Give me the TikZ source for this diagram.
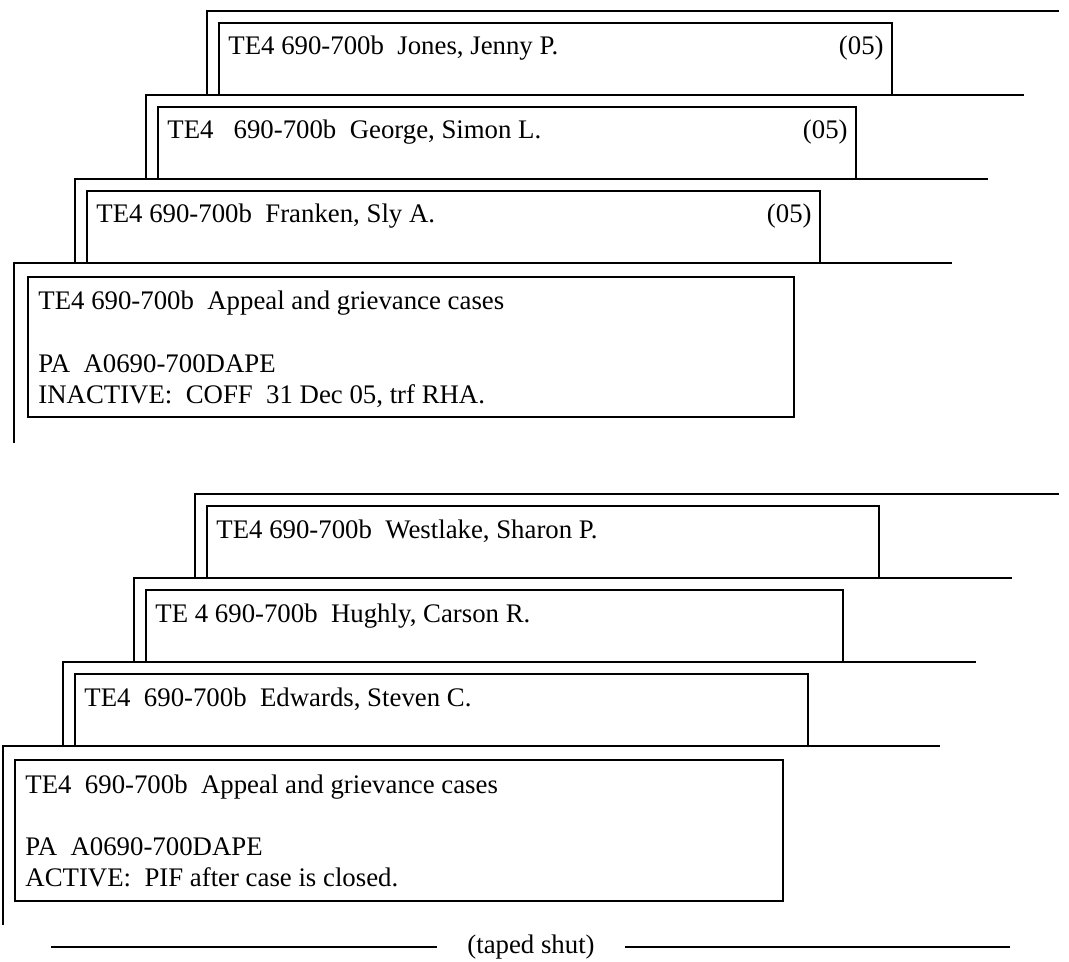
\documentclass[tikz,border=0pt]{standalone}
\usepackage{fontspec}
\setmainfont{Liberation Serif}
\usetikzlibrary{positioning}
% one file tab: name, back x, back top y, back edge end x, tab right x, label
\newcommand{\filetab}[6]{%
  \draw[folder] (#2,#3+84) |- (#4,#3);
  \draw[folder] (#2+12,#3+84) |- (#5,#3+12) -- (#5,#3+84);
  \node[cardtext, anchor=base west] (#1) at (#2+21,#3+44) {#6};
}

\begin{document}
\begin{tikzpicture}[x=0.5pt, y=-0.5pt,
  folder/.style={line width=1.2pt},
  cardtext/.style={font=\fontsize{13.4}{16}\selectfont, inner sep=0pt}]
  \useasboundingbox (0,0) rectangle (1069,962);
  % inactive drawer
  \filetab{jones}{207}{11}{1059}{892}{TE4 690-700b\ \ Jones, Jenny P.}
  \filetab{george}{146}{95}{1024}{856}{TE4\ \ \ 690-700b\ \ George, Simon L.}
  \filetab{franken}{75}{179}{988}{820}{TE4 690-700b\ \ Franken, Sly A.}
  \node[cardtext, anchor=base east] (jonesyr) at (884,55) {(05)};
  \node[cardtext, anchor=base east] (georgeyr) at (848,139) {(05)};
  \node[cardtext, anchor=base east] (frankenyr) at (812,223) {(05)};
  \draw[folder] (14,443) |- (952,263);
  \draw[folder] (28,277) rectangle (794,417);
  \node[cardtext, anchor=base west] (casesA) at (38,310) {TE4 690-700b\ \ Appeal and grievance cases};
  \node[cardtext, anchor=base west] (paA) at (38,372) {PA\ \ A0690-700DAPE};
  \node[cardtext, anchor=base west] (statusA) at (38,403) {INACTIVE:\ \ COFF\ \ 31 Dec 05, trf RHA.};
  % active drawer
  \filetab{westlake}{195}{494}{1059}{879}{TE4 690-700b\ \ Westlake, Sharon P.}
  \filetab{hughly}{134}{578}{1012}{843}{TE 4 690-700b\ \ Hughly, Carson R.}
  \filetab{edwards}{63}{662}{976}{808}{TE4\ \ 690-700b\ \ Edwards, Steven C.}
  \draw[folder] (3,925) |- (940,746);
  \draw[folder] (15,760) rectangle (783,901);
  \node[cardtext, anchor=base west] (casesB) at (25,793) {TE4\ \ 690-700b\ \ Appeal and grievance cases};
  \node[cardtext, anchor=base west] (paB) at (25,855) {PA\ \ A0690-700DAPE};
  \node[cardtext, anchor=base west] (statusB) at (25,886) {ACTIVE:\ \ PIF after case is closed.};
  % tape
  \node[cardtext, inner xsep=15pt] (tape) at (531,947) {(taped shut)};
  \coordinate (tapeL) at (51,947);
  \coordinate (tapeR) at (1010,947);
  \draw[folder] (tapeL) -- (tape.west);
  \draw[folder] (tape.east) -- (tapeR);
\end{tikzpicture}
\end{document}
